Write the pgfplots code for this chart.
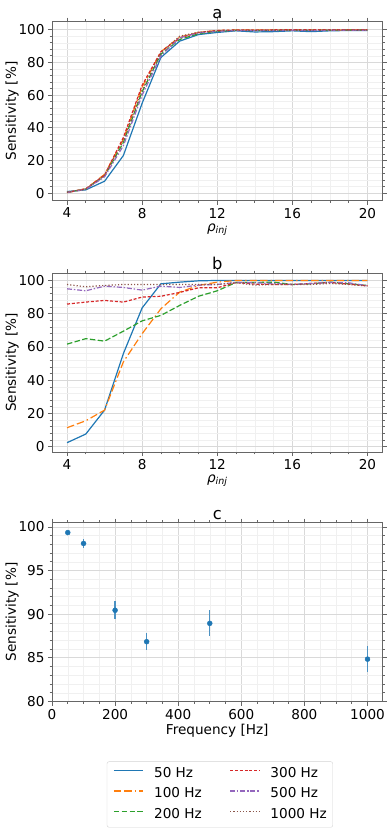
\documentclass[border=0pt]{standalone}
\usepackage{fontspec}
\setmainfont{DejaVu Sans}
\usepackage{pgfplots}
\pgfplotsset{compat=1.18}

\definecolor{cBlue}{HTML}{1F77B4}
\definecolor{cOrange}{HTML}{FF7F0E}
\definecolor{cGreen}{HTML}{2CA02C}
\definecolor{cRed}{HTML}{D62728}
\definecolor{cPurple}{HTML}{9467BD}
\definecolor{cBrown}{HTML}{8C564B}

\newcommand{\basefont}{\fontsize{13.6bp}{16bp}\selectfont}

\pgfplotsset{
  panel/.style={
    scale only axis, width=330.5bp, height=179bp, anchor=north west,
    axis line style={black!60, line width=0.8bp},
    tick align=outside, major tick length=4bp, minor tick length=2.3bp,
    tick style={black!60, line width=0.7bp},
    grid=both,
    major grid style={gray!30, line width=0.7bp},
    minor grid style={gray!12, line width=0.5bp},
    font=\basefont, tick label style={font=\basefont},
    /pgf/number format/assume math mode=true,
    /pgf/number format/1000 sep={},
    every axis title shift=0pt,
    title style={font=\fontsize{16.3bp}{19bp}\selectfont, anchor=base,
      at={(axis description cs:0.5,1)}, yshift=3.5bp},
    ylabel style={at={(axis description cs:-0.121,0.5)}, anchor=center},
    xlabel style={at={(axis description cs:0.5,-0.162)}, anchor=center},
    ylabel={Sensitivity [\%]},
    legend image code/.code={\draw[#1, line width=1.5bp] (0bp,3.5bp) -- (29bp,3.5bp);},
  },
  rho/.style={
    xmin=3.2, xmax=20.8, xtick={4,8,...,20}, minor x tick num=3,
    ytick={0,20,...,100}, minor y tick num=4,
    xlabel={\itshape ρ\textsubscript{inj}},
  },
  s50/.style={color=cBlue, draw=cBlue, solid, line width=1.2bp},
  s100/.style={color=cOrange, draw=cOrange, line width=1.2bp, dash pattern=on 7.5bp off 3bp on 7.5bp off 3bp on 1.5bp off 3bp},
  s200/.style={color=cGreen, draw=cGreen, line width=1.2bp, dash pattern=on 5.5bp off 2.4bp},
  s300/.style={color=cRed, draw=cRed, line width=1.2bp, dash pattern=on 3bp off 1.8bp},
  s500/.style={color=cPurple, draw=cPurple, line width=1.2bp, dash pattern=on 5bp off 1.8bp on 1.5bp off 1.8bp},
  s1000/.style={color=cBrown, draw=cBrown, line width=1.2bp, dash pattern=on 1.2bp off 2bp},
}

\begin{document}
\begin{tikzpicture}
\useasboundingbox (0,0) rectangle (390bp,-832bp);

% (a)
\begin{axis}[panel, rho, at={(52bp,-21.5bp)}, ymin=-4.5, ymax=105, title={a}]
\addplot[s50] coordinates {(4,1.0)(5,2.0)(6,7.3)(7,23)(8,55)(9,83)(10,93)(11,97)(12,98.3)(13,99.3)(14,98.6)(15,98.8)(16,99.3)(17,98.8)(18,99.3)(19,99.5)(20,99.5)};
\addplot[s100] coordinates {(4,0.3)(5,2.6)(6,11.5)(7,33)(8,65)(9,86.5)(10,95.5)(11,98.3)(12,99.5)(13,99.8)(14,99.8)(15,99.8)(16,99.9)(17,99.8)(18,99.8)(19,99.9)(20,99.9)};
\addplot[s200] coordinates {(4,0.5)(5,2.5)(6,10.5)(7,31)(8,62)(9,85)(10,94)(11,97.5)(12,99)(13,99.6)(14,99.5)(15,99.6)(16,99.7)(17,99.6)(18,99.7)(19,99.8)(20,99.8)};
\addplot[s300] coordinates {(4,0.4)(5,2.7)(6,11)(7,34)(8,66)(9,86.5)(10,95)(11,98.3)(12,99.5)(13,99.8)(14,99.8)(15,99.9)(16,99.9)(17,99.9)(18,99.9)(19,99.9)(20,99.9)};
\addplot[s500] coordinates {(4,0.4)(5,2.3)(6,10)(7,29)(8,60)(9,84)(10,95)(11,98)(12,99)(13,99.5)(14,99.4)(15,99.5)(16,99.6)(17,99.5)(18,99.6)(19,99.7)(20,99.7)};
\addplot[s1000] coordinates {(4,0.5)(5,2.5)(6,11)(7,32)(8,63)(9,86)(10,96)(11,98.5)(12,99.3)(13,99.7)(14,99.7)(15,99.7)(16,99.8)(17,99.7)(18,99.8)(19,99.8)(20,99.8)};
\end{axis}

% (b)
\begin{axis}[panel, rho, at={(52bp,-273bp)}, ymin=-3.2, ymax=104.5, title={b}]
\addplot[s50] coordinates {(4,2.4)(5,7.6)(6,22)(7,56)(8,83.5)(9,98)(10,99)(11,99.8)(12,100)(13,100)(14,100)(15,100)(16,100)(17,100)(18,100)(19,100)(20,100)};
\addplot[s100] coordinates {(4,11.4)(5,15.6)(6,22)(7,51)(8,68)(9,83)(10,93)(11,97)(12,99)(13,100)(14,100)(15,100)(16,100)(17,100)(18,100)(19,100)(20,100)};
\addplot[s200] coordinates {(4,61.7)(5,65)(6,63.5)(7,69.5)(8,75.7)(9,79)(10,85)(11,90.5)(12,93.8)(13,98.8)(14,98.8)(15,99)(16,97.6)(17,98)(18,99)(19,98)(20,97)};
\addplot[s300] coordinates {(4,85.8)(5,87)(6,88)(7,87)(8,90)(9,90.5)(10,92.8)(11,95.6)(12,95.6)(13,98.8)(14,97.8)(15,97.6)(16,97.6)(17,98.2)(18,98.8)(19,97.8)(20,96.8)};
\addplot[s500] coordinates {(4,95)(5,93.8)(6,96.6)(7,95.8)(8,94.2)(9,96.6)(10,95.8)(11,97.2)(12,97.6)(13,98.8)(14,98.6)(15,98.2)(16,97.6)(17,98.2)(18,98.8)(19,98.6)(20,96.8)};
\addplot[s1000] coordinates {(4,97.6)(5,96.2)(6,97)(7,97.6)(8,97.6)(9,97.6)(10,97.6)(11,97.6)(12,97.6)(13,98.6)(14,97.2)(15,97.6)(16,97.6)(17,97.6)(18,98.2)(19,97.6)(20,96.6)};
\end{axis}

% (c)
\begin{axis}[panel, at={(52bp,-522.5bp)}, title={c},
  xmin=0, xmax=1047.5, ymin=80, ymax=100.5,
  xtick={0,200,...,1000}, minor x tick num=3,
  ytick={80,85,...,100}, minor y tick num=4,
  xlabel={Frequency [Hz]},
  legend columns=2,
  legend style={at={(axis description cs:0.508,-0.335)}, anchor=north,
    draw=gray!35, rounded corners=2bp, fill=white,
    inner xsep=6bp, inner ysep=5.6bp, row sep=7.7bp,
    nodes={inner sep=0bp, text height=10bp, text depth=3bp, font=\basefont},
    /tikz/every odd column/.append style={column sep=10.6bp},
    /tikz/every even column/.append style={column sep=27.6bp}},
  legend cell align=left]
\addplot[forget plot, only marks, mark=*, mark size=2.5bp, color=cBlue,
  error bars/.cd, y dir=both, y explicit, error mark=none,
  error bar style={line width=1.3bp, cBlue!80}]
  coordinates {(50,99.35) +- (0,0.2) (100,98.1) +- (0,0.5) (200,90.45) +- (0,1.05)
               (300,86.85) +- (0,0.95) (500,88.95) +- (0,1.5) (1000,84.85) +- (0,1.5)};
\addlegendimage{s50}\addlegendentry{50 Hz}
\addlegendimage{s300}\addlegendentry{300 Hz}
\addlegendimage{s100}\addlegendentry{100 Hz}
\addlegendimage{s500}\addlegendentry{500 Hz}
\addlegendimage{s200}\addlegendentry{200 Hz}
\addlegendimage{s1000}\addlegendentry{1000 Hz}
\end{axis}
\end{tikzpicture}
\end{document}
